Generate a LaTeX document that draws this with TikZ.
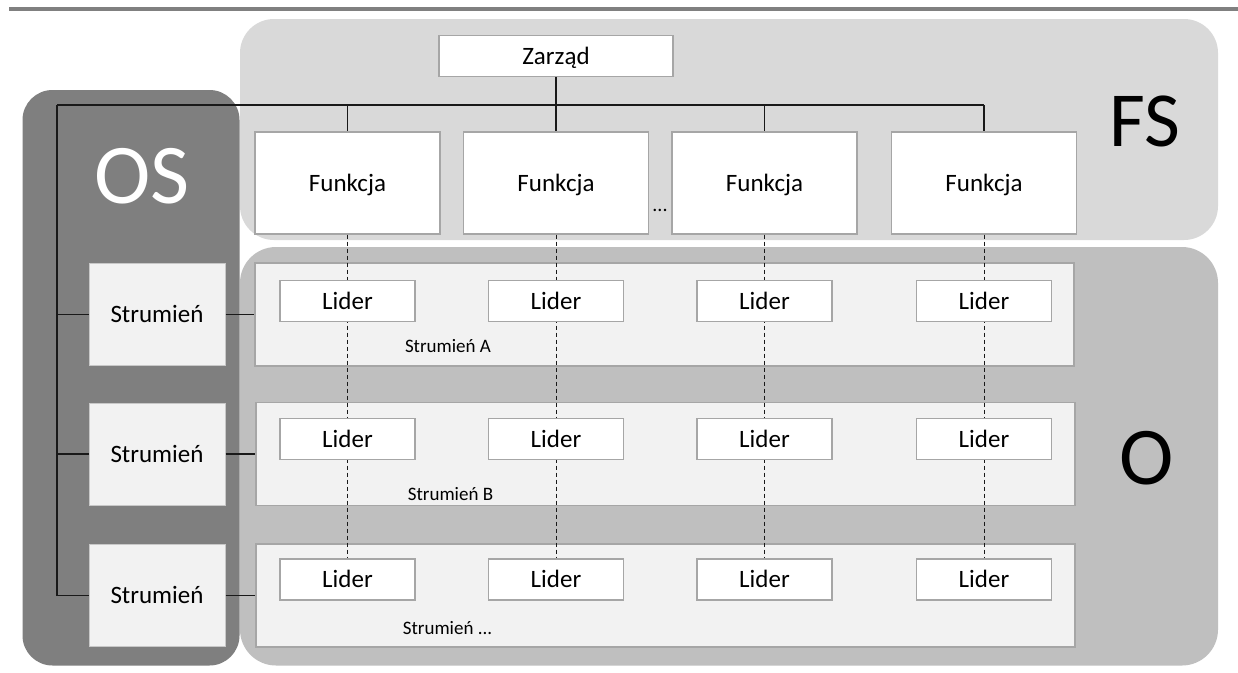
\documentclass[tikz,border=0pt]{standalone}
\usepackage{fontspec}
\setmainfont{Carlito}
\definecolor{fsgray}{HTML}{D9D9D9}
\definecolor{ogray}{HTML}{BFBFBF}
\definecolor{osgray}{HTML}{7F7F7F}
\definecolor{panelfill}{HTML}{F2F2F2}
\definecolor{boxline}{HTML}{A6A6A6}
\definecolor{sboxline}{HTML}{C8C8C8}
\definecolor{rulegray}{HTML}{808080}
\tikzset{
  txt/.style={text height=#1, text depth=0pt, inner sep=0pt},
  mainfont/.style={font=\fontsize{25}{30}\selectfont, txt=16.1pt},
  whitebox/.style={draw=boxline, line width=1.2pt, fill=white, mainfont},
  zbox/.style={whitebox, minimum width=234pt, minimum height=41.5pt},
  fbox/.style={whitebox, minimum width=185pt, minimum height=102pt},
  lbox/.style={whitebox, minimum width=135pt, minimum height=41pt},
  sbox/.style={draw=sboxline, line width=1pt, fill=panelfill, mainfont, minimum width=136pt, minimum height=102pt},
  panel/.style={draw=boxline, line width=1.2pt, fill=panelfill, minimum width=819pt, minimum height=103pt, inner sep=0pt},
  smalltext/.style={font=\fontsize{19}{23}\selectfont, txt=12.2pt},
  conn/.style={line width=1.3pt, black!90},
  dashline/.style={line width=1pt, black!90, dash pattern=on 4pt off 3pt},
  topline/.style={line width=4pt, rulegray}
}
\begin{document}
\begin{tikzpicture}[x=1pt,y=-1pt]
\useasboundingbox[fill=white] (0,0) rectangle (1238,672);
% top rule
\coordinate (ruleL) at (9,8.7);
\coordinate (ruleR) at (1238,8.7);
\draw[topline] (ruleL) -- (ruleR);
% panels
\fill[fsgray, rounded corners=34pt] (240,19) rectangle (1218,240);
\fill[ogray, rounded corners=36pt] (240,247) rectangle (1218,665.5);
\fill[osgray, rounded corners=30pt] (22.5,90) rectangle (239.5,665.5);
% big labels
\node[font=\fontsize{85}{90}\selectfont, txt=54.7pt, text=white] (os) at (142,176) {OS};
\node[font=\fontsize{78}{84}\selectfont, txt=50.2pt] (fs) at (1145,121.7) {FS};
\node[font=\fontsize{82}{88}\selectfont, txt=52.8pt] (o) at (1147,458.3) {O};
% top hierarchy
\node[zbox] (zarzad) at (556,56) {Zarząd};
\node[fbox] (f1) at (347.5,183) {Funkcja};
\node[fbox] (f2) at (556,183) {Funkcja};
\node[fbox] (f3) at (764.5,183) {Funkcja};
\node[fbox] (f4) at (984,183) {Funkcja};
\node[font=\fontsize{20}{24}\selectfont, txt=3pt] (dots) at (660,209.5) {...};
\coordinate (busL) at (57,105);
\coordinate (busR) at (984,105);
\draw[conn] (busL) -- (busR);
\draw[conn] (zarzad.south) -- (zarzad.south |- busL);
\foreach \f in {f1,f2,f3,f4} { \draw[conn] (\f.north |- busL) -- (\f.north); }
% stream panels
\node[panel] (p1) at (664.5,314.5) {};
\node[panel] (p2) at (665.5,454) {};
\node[panel] (p3) at (665.5,595.5) {};
% left stream boxes
\node[sbox] (s1) at (157,314.5) {Strumień};
\node[sbox] (s2) at (157,454) {Strumień};
\node[sbox] (s3) at (157,595.5) {Strumień};
\draw[conn] (busL) -- (busL |- s3.west);
\foreach \s/\p in {s1/p1,s2/p2,s3/p3} {
  \draw[conn] (\s.west -| busL) -- (\s.west);
  \draw[conn] (\s.east) -- (\p.west);
}
% dashed column lines
\draw[dashline] (f1.south) -- (347.5,559);
\draw[dashline] (f2.south) -- (556,559);
\draw[dashline] (f3.south) -- (764.5,559);
\draw[dashline] (f4.south) -- (984,559);
% leaders
\foreach \r/\y in {1/301,2/439,3/579.5} {
  \node[lbox] (l\r a) at (347.5,\y) {Lider};
  \node[lbox] (l\r b) at (556,\y) {Lider};
  \node[lbox] (l\r c) at (764.5,\y) {Lider};
  \node[lbox] (l\r d) at (984,\y) {Lider};
}
% stream labels
\node[smalltext] (la) at (448,346.5) {Strumień A};
\node[smalltext] (lb) at (450.5,494) {Strumień B};
\node[smalltext] (lc) at (447.5,628) {Strumień ...};
\end{tikzpicture}
\end{document}
